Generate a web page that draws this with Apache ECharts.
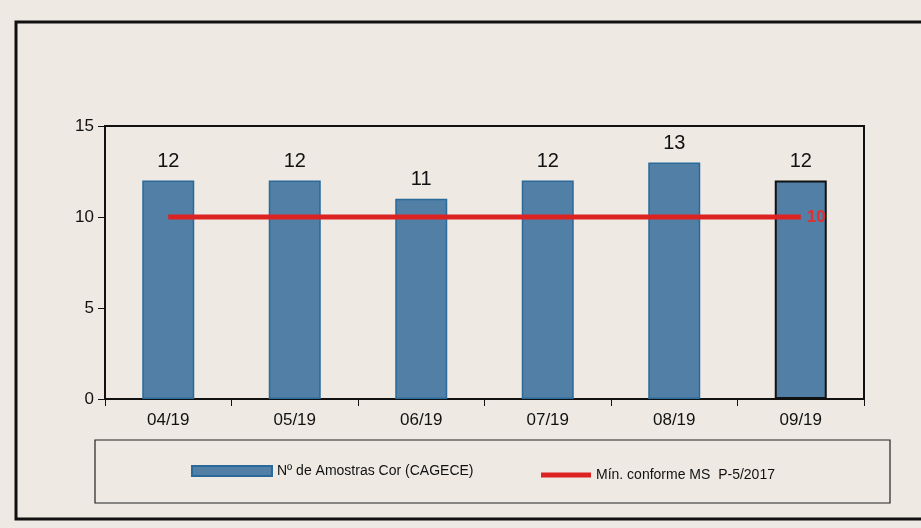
<!DOCTYPE html>
<html><head><meta charset="utf-8">
<script src="https://cdn.jsdelivr.net/npm/echarts@6/dist/echarts.min.js"></script>
<style>html,body{margin:0;padding:0;background:#eeeae3}#c{width:921px;height:528px}</style>
</head><body><div id="c"></div>
<script>
const categories = ['04/19','05/19','06/19','07/19','08/19','09/19'];
const amostras = [12,12,11,12,13,12];
const minimo = [10,10,10,10,10,10];
const yTicks = [0,5,10,15];
const seriesNames = ['Nº de Amostras Cor (CAGECE)','Mín. conforme MS  P-5/2017'];

const chart = echarts.init(document.getElementById('c'));
const font = 'Liberation Sans, Arial, sans-serif';
chart.setOption({
  backgroundColor: '#eeeae3',
  animation: false,
  graphic: [
    {type:'rect', shape:{x:16,y:22,width:930,height:497}, style:{fill:'none',stroke:'#111',lineWidth:3}},
    {type:'rect', shape:{x:95,y:440,width:795,height:63}, style:{fill:'none',stroke:'#222',lineWidth:1.2}},
    {type:'rect', shape:{x:105,y:126,width:759,height:273}, style:{fill:'none',stroke:'#111',lineWidth:2}, z:-1}
  ],
  legend: [
    {data:[seriesNames[0]], left:186, top:459, itemWidth:80, itemHeight:10, icon:'rect',
     textStyle:{fontFamily:font,fontSize:14,color:'#111'}},
    {data:[seriesNames[1]], left:536, top:463, itemWidth:50, itemHeight:5, icon:'rect',
     textStyle:{fontFamily:font,fontSize:14,color:'#111'}}
  ],
  grid: {left:105, right:57, top:126, bottom:129},
  xAxis: {
    type:'category', data:categories, boundaryGap:true,
    axisLine:{lineStyle:{color:'#111',width:2}},
    axisTick:{show:true, interval:0, length:7, lineStyle:{color:'#111'}},
    axisLabel:{fontFamily:font,fontSize:17,color:'#111',margin:13}
  },
  yAxis: {
    type:'value', min:yTicks[0], max:yTicks[yTicks.length-1], interval:5,
    axisLine:{show:true,lineStyle:{color:'#111',width:2}},
    axisTick:{show:true,length:7,lineStyle:{color:'#111'}},
    splitLine:{show:false},
    axisLabel:{fontFamily:font,fontSize:17,color:'#111',margin:11}
  },
  series: [
    {name:seriesNames[0], type:'bar', data:amostras.map((v,i)=>({value:v,
        itemStyle: i===5?{borderColor:'#111',borderWidth:2}:{}})),
     barWidth:52,
     itemStyle:{color:'#517fa6', borderColor:'#2a6a9a', borderWidth:1.5},
     label:{show:true, position:'top', distance:9, fontFamily:font, fontSize:20, color:'#111'}},
    {name:seriesNames[1], type:'line', data:minimo, symbol:'none',
     lineStyle:{color:'#dd2222', width:5}, itemStyle:{color:'#dd2222'},
     endLabel:{show:true, fontFamily:font, fontSize:17, fontWeight:'bold', color:'#e03030', distance:6},
     z:5}
  ]
});
</script></body></html>
